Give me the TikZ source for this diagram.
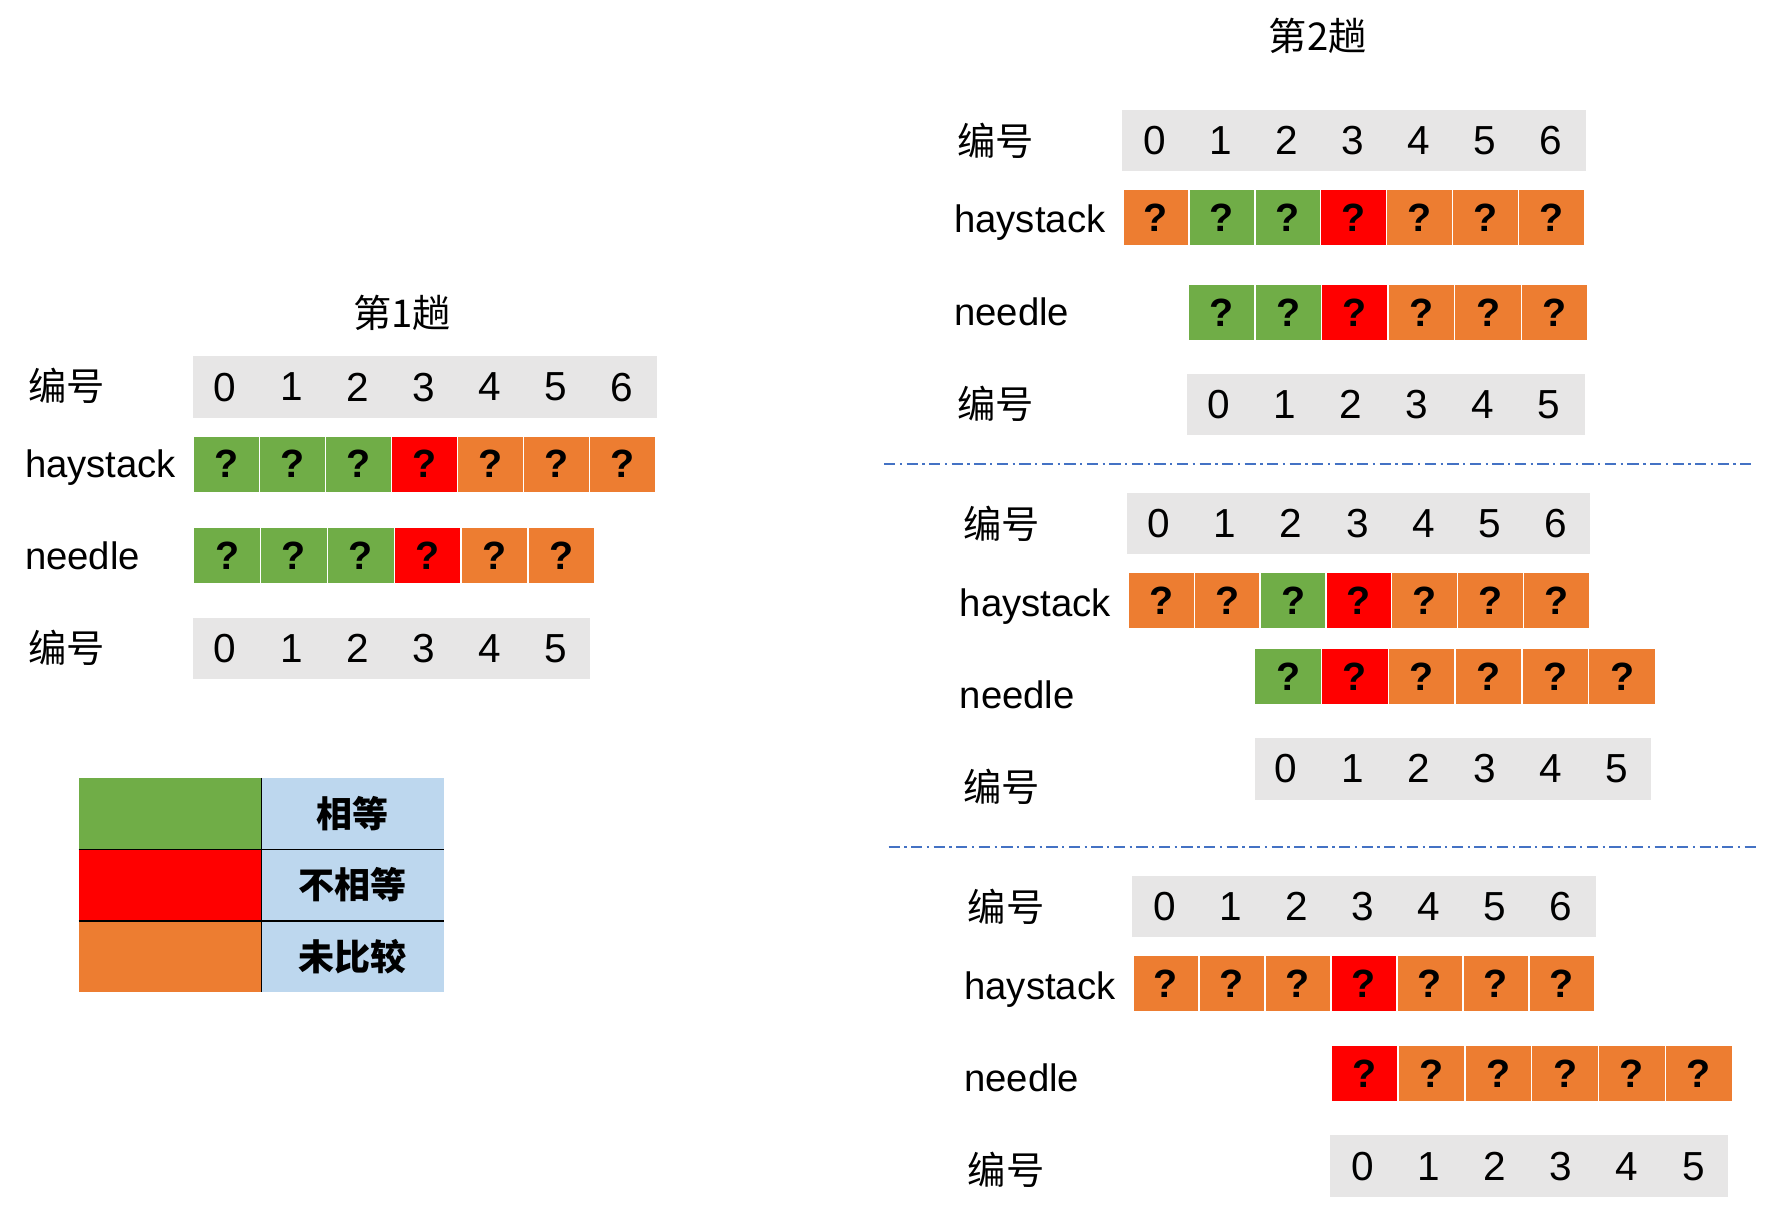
\documentclass[tikz,border=0pt]{standalone}
\usepackage{fontspec}
\setmainfont{Liberation Sans}
\newfontfamily\cjk{Noto Sans CJK SC}
\definecolor{cg}{HTML}{70AD47}
\definecolor{cr}{HTML}{FF0000}
\definecolor{co}{HTML}{ED7D31}
\definecolor{cgray}{HTML}{E7E6E6}
\definecolor{cblue}{HTML}{BDD7EE}
\definecolor{cline}{HTML}{4472C4}
\newcommand\mycells[4]{%
  \foreach \c [count=\i from 0] in {#4}
    \node[cell, fill=\c, minimum width=#3pt] (#1\i) at ({#2+#3*(\i+0.5)},\rowy) {?};
}
\newcommand\mynums[7]{%
  \node[grayrow, minimum width=#4pt, minimum height=#5pt] (#1) at (#2,#3) {};
  \foreach \d in {0,...,#7}
    \node[digit] (#1-\d) at ({#6+58.7*\d},#3) {\d};
}
\begin{document}
\begin{tikzpicture}[x=1pt,y=-1pt,
  cell/.style={draw=white, line width=1.2pt, minimum height=50pt, inner sep=0pt,
    text depth=0pt, font=\bfseries\fontsize{35}{35}\selectfont},
  grayrow/.style={fill=cgray, draw=none, inner sep=0pt},
  digit/.style={inner sep=0pt, text depth=0pt, font=\fontsize{36}{36}\selectfont},
  lab/.style={anchor=base west, inner sep=0pt, font=\fontsize{34}{34}\selectfont},
  cjklab/.style={anchor=base west, inner sep=0pt, font=\cjk\fontsize{34}{34}\selectfont},
  title/.style={inner sep=0pt, font=\cjk\fontsize{34}{34}\selectfont},
  legc/.style={draw=none, minimum width=162pt, minimum height=63.3pt, inner sep=0pt},
  legt/.style={fill=cblue, draw=none, minimum width=162pt, minimum height=63.3pt, inner sep=0pt,
    font=\cjk\bfseries\fontsize{32}{32}\selectfont},
  sep/.style={cline, line width=1.3pt, dash pattern=on 10pt off 4pt on 2pt off 4pt}
]
\fill[white] (0,0) rectangle (1568,1081);
\useasboundingbox (0,0) rectangle (1568,1081);

% ---------- first pass ----------
\node[title] (t1) at (357,278) {第1趟};
\node[cjklab] (Lk1) at (25,356) {编号};
\node[lab] (Lhl) at (22,424) {haystack};
\node[lab] (Lnl) at (22,506) {needle};
\node[cjklab] (Lk2) at (25,588) {编号};
\mynums{Ln1}{377}{343.5}{412}{55}{200}{6}
\def\rowy{412}\mycells{Lh}{172}{58.57}{cg,cg,cg,cr,co,co,co}
\def\rowy{493.5}\mycells{Ln}{172}{59.33}{cg,cg,cg,cr,co,co}
\mynums{Ln2}{347.5}{576}{353}{54}{200}{5}

% ---------- legend ----------
\node[legc, fill=cg] (lg1) at (151,722.5) {};
\node[legc, fill=cr] (lg2) at (151,785.8) {};
\node[legc, fill=co] (lg3) at (151,849.1) {};
\node[legt] (lt1) at (313,722.5) {相等};
\node[legt] (lt2) at (313,785.8) {不相等};
\node[legt] (lt3) at (313,849.1) {未比较};
\draw[line width=1.2pt] (lg1.north east) -- (lg3.south east);
\draw[line width=1.2pt] (lg1.south west) -- (lt1.south east);
\draw[line width=1.2pt] (lg2.south west) -- (lt2.south east);

% ---------- second pass ----------
\node[title] (t2) at (1170,32) {第2趟};

% section 1
\node[cjklab] (Ak1) at (850,138) {编号};
\node[lab] (Ahl) at (847,206) {haystack};
\node[lab] (Anl) at (847,289) {needle};
\node[cjklab] (Ak2) at (850,372) {编号};
\mynums{An1}{1202}{125}{412}{54}{1025}{6}
\def\rowy{193.5}\mycells{Ah}{997}{58.57}{co,cg,cg,cr,co,co,co}
\def\rowy{277.5}\mycells{An}{1055}{59.17}{cg,cg,cr,co,co,co}
\mynums{An2}{1230.5}{359}{353}{54}{1082}{5}

\coordinate (s1a) at (785,412);
\coordinate (s1b) at (1557,412);
\draw[sep] (s1a) -- (s1b);

% section 2
\node[cjklab] (Bk1) at (855,478) {编号};
\node[lab] (Bhl) at (852,547) {haystack};
\node[lab] (Bnl) at (852,629) {needle};
\node[cjklab] (Bk2) at (855,712) {编号};
\mynums{Bn1}{1206.5}{465}{411}{54}{1029}{6}
\def\rowy{533}\mycells{Bh}{1002}{58.43}{co,co,cg,cr,co,co,co}
\def\rowy{600.5}\mycells{Bn}{1114}{59.33}{cg,cr,co,co,co,co}
\mynums{Bn2}{1290}{682.5}{352}{55}{1142}{5}

\coordinate (s2a) at (789,752);
\coordinate (s2b) at (1560,752);
\draw[sep] (s2a) -- (s2b);

% section 3
\node[cjklab] (Ck1) at (859,818) {编号};
\node[lab] (Chl) at (856,887) {haystack};
\node[lab] (Cnl) at (856,969) {needle};
\node[cjklab] (Ck2) at (859,1052) {编号};
\mynums{Cn1}{1211}{805}{412}{54}{1034}{6}
\def\rowy{873}\mycells{Ch}{1006}{58.57}{co,co,co,cr,co,co,co}
\def\rowy{953.5}\mycells{Cn}{1182}{59.33}{cr,co,co,co,co,co}
\mynums{Cn2}{1357.5}{1035.5}{353}{55}{1210}{5}
\end{tikzpicture}
\end{document}
